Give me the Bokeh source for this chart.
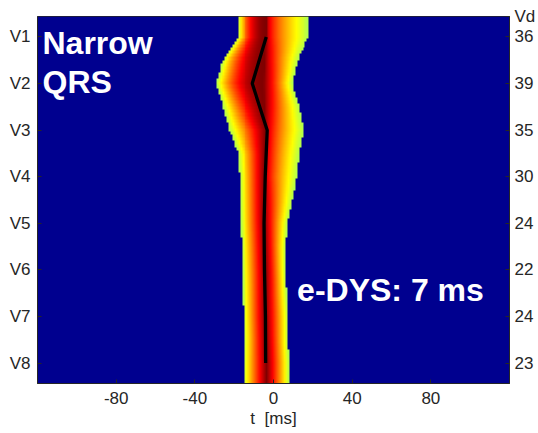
import numpy as np
from bokeh.plotting import figure
from bokeh.models import Range1d, LinearAxis, FixedTicker, LinearColorMapper, Label
from bokeh.embed import file_html
from bokeh.resources import INLINE

# ---------------- data ----------------
leads = ["V1", "V2", "V3", "V4", "V5", "V6", "V7", "V8"]
vd_ms = ["36", "39", "35", "30", "24", "22", "24", "23"]
vd_title = "Vd"
activation_ms = [-3.7, -10.8, -3.2, -4.2, -4.8, -4.6, -4.1, -4.0]
peak_ms = [-3.5, -5.0, -4.0, -4.5, -4.5, -4.0, -4.0, -3.5]
shape_left = [2.0, 2.0, 1.0, 1.0, 1.0, 1.0, 1.0, 1.0]
shape_right = [0.55, 1.0, 0.65, 0.65, 0.9, 1.0, 1.0, 1.0]
# colored band edges, sampled every half lead (V1, V1.5, V2, ... V8)
edge_lead_pos = [1.0, 1.5, 2.0, 2.5, 3.0, 3.5, 4.0, 4.5, 5.0, 5.5, 6.0, 6.5, 7.0, 7.5, 8.0]
band_left_ms = [-18.3, -26.1, -29.0, -25.7, -22.6, -18.1, -17.3, -17.1, -16.8,
                -16.3, -15.9, -15.6, -15.4, -15.1, -15.3]
band_right_ms = [17.6, 12.4, 9.5, 12.9, 15.1, 12.9, 11.7, 9.5, 7.0,
                 6.1, 6.1, 6.6, 7.3, 7.3, 7.8]
x_ticks = [-80, -40, 0, 40, 80]
x_tick_labels = ["-80", "-40", "0", "40", "80"]
edys_text = "e-DYS: 7 ms"

# ---------------- build the map ----------------
T_MIN, T_MAX = -120.0, 120.0
Y_MIN, Y_MAX = 0.56, 8.44
n_leads = len(leads)
lead_idx = np.arange(1, n_leads + 1)
n_cols, n_rows = 240, 118
t = T_MIN + (np.arange(n_cols) + 0.5) * (T_MAX - T_MIN) / n_cols
y_rows = Y_MIN + (np.arange(n_rows) + 0.5) * (Y_MAX - Y_MIN) / n_rows
lead_pos = np.clip((n_leads + 1) - y_rows, 1, n_leads)

L = np.interp(lead_pos, edge_lead_pos, band_left_ms)[:, None]
R = np.interp(lead_pos, edge_lead_pos, band_right_ms)[:, None]
P = np.interp(lead_pos, lead_idx, peak_ms)[:, None]
kL = np.interp(lead_pos, lead_idx, shape_left)[:, None]
kR = np.interp(lead_pos, lead_idx, shape_right)[:, None]
d = t[None, :] - P
u = np.where(d < 0, -d / (P - L), d / (R - P))
k = np.where(d < 0, kL, kR)
level = 1.0 - 0.45 * np.power(u, k)


def jet_hex(x):
    r = np.clip(1.5 - abs(4 * x - 3), 0, 1)
    g = np.clip(1.5 - abs(4 * x - 2), 0, 1)
    b = np.clip(1.5 - abs(4 * x - 1), 0, 1)
    return "#%02x%02x%02x" % (int(round(r * 255)), int(round(g * 255)), int(round(b * 255)))


palette = [jet_hex(x) for x in np.linspace(0.55, 1.0, 256)]
mapper = LinearColorMapper(palette=palette, low=0.55, high=1.0, low_color="#00008F")

# ---------------- figure ----------------
FONT = "Liberation Sans"
TXT = "#262626"
p = figure(width=538, height=433, x_range=Range1d(T_MIN, T_MAX), y_range=Range1d(Y_MIN, Y_MAX),
           output_backend="svg", toolbar_location=None,
           min_border_left=37, min_border_right=29, min_border_top=16, min_border_bottom=50)
p.grid.visible = False
p.outline_line_color = TXT
p.background_fill_color = "#00008F"

p.image(image=[level], x=T_MIN, y=Y_MIN, dw=T_MAX - T_MIN, dh=Y_MAX - Y_MIN, color_mapper=mapper)
p.line(x=activation_ms, y=[(n_leads + 1) - i for i in lead_idx], line_color="black", line_width=3.3)

y_ticks = [int((n_leads + 1) - i) for i in lead_idx]


def style_axis(ax):
    ax.major_tick_in = 4
    ax.major_tick_out = 0
    ax.minor_tick_line_color = None
    ax.major_tick_line_color = TXT
    ax.axis_line_color = TXT
    ax.major_label_text_font = FONT
    ax.major_label_text_font_size = "17px"
    ax.major_label_text_color = TXT
    ax.axis_label_text_font = FONT
    ax.axis_label_text_font_size = "17px"
    ax.axis_label_text_font_style = "normal"
    ax.axis_label_text_color = TXT


xa = p.xaxis[0]
xa.ticker = FixedTicker(ticks=x_ticks)
xa.major_label_overrides = {tk: lb for tk, lb in zip(x_ticks, x_tick_labels)}
xa.axis_label = "t \u00a0[ms]"
style_axis(xa)
xa.major_label_standoff = 8
xa.axis_label_standoff = 2

ya = p.yaxis[0]
ya.ticker = FixedTicker(ticks=y_ticks)
ya.major_label_overrides = {(n_leads + 1) - i: leads[i - 1] for i in lead_idx}
style_axis(ya)
ya.major_label_standoff = 7

# right axis: Vd per lead, with the "Vd" heading at the top edge
r_overrides = {(n_leads + 1) - i: vd_ms[i - 1] for i in lead_idx}
r_overrides[Y_MAX] = vd_title
ra = LinearAxis(ticker=FixedTicker(ticks=y_ticks + [Y_MAX]), major_label_overrides=r_overrides)
style_axis(ra)
ra.major_label_standoff = 5
p.add_layout(ra, "right")

TEXT_UP = 9
p.add_layout(Label(x=T_MIN, y=7.673, x_offset=5, y_offset=TEXT_UP, text="Narrow", text_font=FONT,
                   text_font_size="32px", text_font_style="bold", text_color="white",
                   text_baseline="alphabetic"))
p.add_layout(Label(x=T_MIN, y=6.851, x_offset=5, y_offset=TEXT_UP, text="QRS", text_font=FONT,
                   text_font_size="32px", text_font_style="bold", text_color="white",
                   text_baseline="alphabetic"))
p.add_layout(Label(x=12.0, y=2.364, y_offset=TEXT_UP, text=edys_text, text_font=FONT,
                   text_font_size="32px", text_font_style="bold", text_color="white",
                   text_baseline="alphabetic"))

open("out.html", "w").write(file_html(p, INLINE))
